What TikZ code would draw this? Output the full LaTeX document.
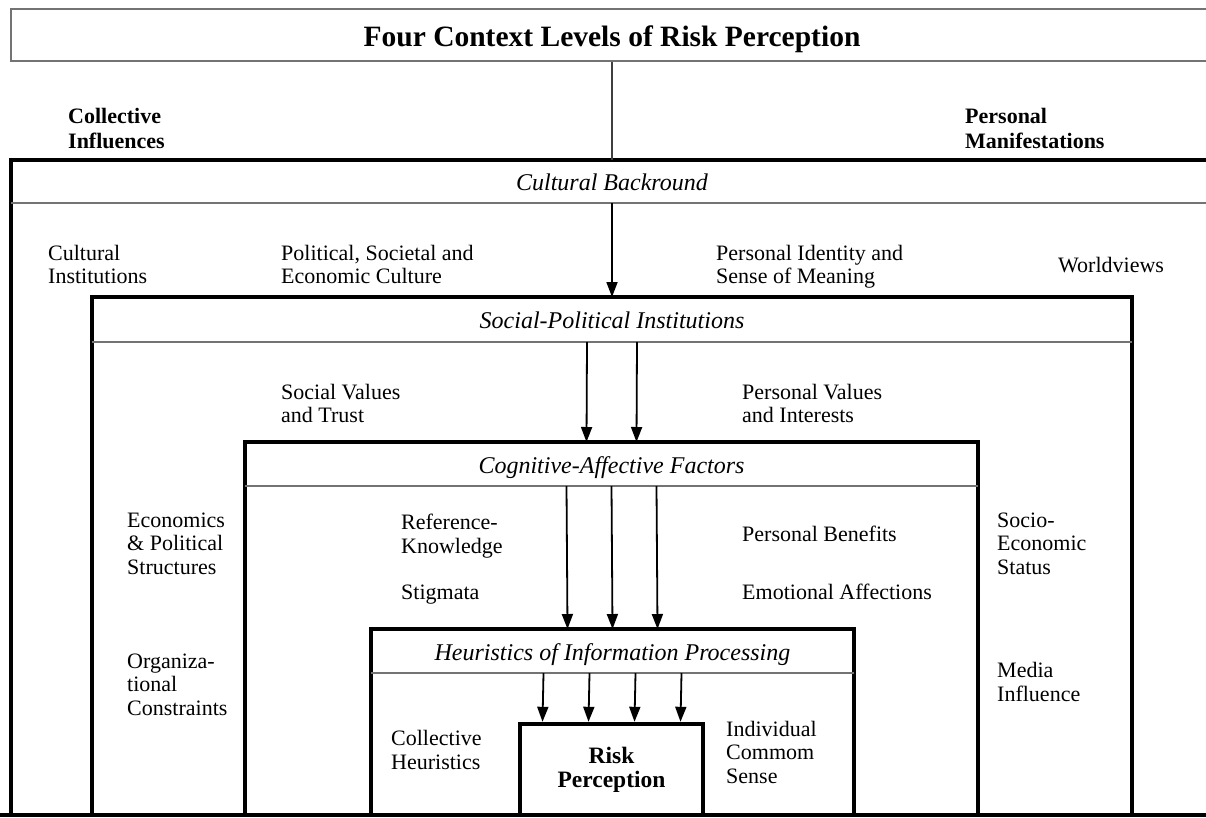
\documentclass[tikz,border=0pt]{standalone}
\usepackage{fontspec}
\setmainfont{Liberation Serif}
\usetikzlibrary{arrows.meta}
\begin{document}
\begin{tikzpicture}[x=1pt,y=-1pt,
  frame/.style={line width=3.2pt,draw=black},
  rule/.style={line width=1.2pt,draw=black!55},
  band/.style={inner sep=0pt,outer sep=0pt,text height=18pt,text depth=0pt,
    font=\fontsize{24}{28}\selectfont\itshape},
  % multi-line labels: the base anchor sits on the last line
  lbl/.style={inner sep=0pt,anchor=base west,align=left,
    font=\fontsize{22}{23.5}\selectfont},
  side/.style={inner sep=0pt,anchor=base west,align=left,
    font=\fontsize{22}{25}\selectfont\bfseries},
  arr/.style={line width=1.8pt,-{Triangle[length=15pt,width=11pt]}},
]
\useasboundingbox (0,0) rectangle (1206,817);
\clip (0,0) rectangle (1206,817);

% title bar
\node[draw=black!55,line width=1.4pt,inner sep=0pt,minimum width=1202pt,
  minimum height=52pt,text height=22pt,text depth=0pt,
  font=\fontsize{29.5}{34}\selectfont\bfseries] (title) at (612,35)
  {Four Context Levels of Risk Perception};

\node[side] (coll) at (68,148) {Collective\\Influences};
\node[side] (pers) at (965,148) {Personal\\Manifestations};

% nested context frames, open at the bottom edge
\draw[frame] (11,817) -- (11,160) -- (1215,160);
\draw[frame] (92,815) rectangle (1132,297);
\draw[frame] (245,815) rectangle (978,442);
\draw[frame] (371,815) rectangle (854,629);
\draw[frame] (0,815) -- (1206,815);

% header bands of the four levels
\node[band,minimum width=1202pt,minimum height=43pt] (cultH) at (612,181.5) {Cultural Backround};
\node[band,minimum width=1040pt,minimum height=45pt] (socH) at (612,319.5) {Social-Political Institutions};
\node[band,minimum width=733pt,minimum height=44pt] (cogH) at (611.5,464) {Cognitive-Affective Factors};
\node[band,minimum width=483pt,minimum height=44pt] (heuH) at (612.5,651) {Heuristics of Information Processing};

\draw[rule] (cultH.south west) -- (cultH.south east);
\draw[rule] (socH.south west) -- (socH.south east);
\draw[rule] (cogH.south west) -- (cogH.south east);
\draw[rule] (heuH.south west) -- (heuH.south east);

% core
\node[draw,line width=4.4pt,inner sep=0pt,minimum width=183pt,minimum height=91pt,
  align=center,font=\fontsize{23.5}{24}\selectfont\bfseries] (risk) at (611.5,769.5)
  {Risk\\Perception};

% level labels
\node[lbl] (ci) at (48,283.5) {Cultural\\Institutions};
\node[lbl] (psec) at (281,283.5) {Political, Societal and\\Economic Culture};
\node[lbl] (pid) at (716,283.5) {Personal Identity and\\Sense of Meaning};
\node[lbl] (wv) at (1058,272) {Worldviews};

\node[lbl] (svt) at (281,422.5) {Social Values\\and Trust};
\node[lbl] (pvi) at (742,422.5) {Personal Values\\and Interests};
\node[lbl] (eps) at (127,574) {Economics\\\& Political\\Structures};
\node[lbl] (ses) at (997,574) {Socio-\\Economic\\Status};
\node[lbl] (oc) at (127,715) {Organiza-\\tional\\Constraints};
\node[lbl] (mi) at (997,701) {Media\\Influence};

\node[lbl] (rk) at (401,553) {Reference-\\Knowledge};
\node[lbl] (stg) at (401,599) {Stigmata};
\node[lbl] (pb) at (742,541) {Personal Benefits};
\node[lbl] (ea) at (742,599) {Emotional Affections};

\node[lbl] (ch) at (391,769) {Collective\\Heuristics};
\node[lbl] (ics) at (726,783) {Individual\\Commom\\Sense};

% connectors
\draw[line width=1.5pt,black!75] (title.south) -- (cultH.north);
\draw[arr] (cultH.south) -- (socH.north);
\foreach \dx in {-25,25}
  \draw[arr] ([xshift=\dx pt]socH.south) -- ([xshift=\dx pt]cogH.north);
\foreach \dx in {-45,0,45}
  \draw[arr] ([xshift=\dx pt]cogH.south) -- ([xshift=\dx pt]heuH.north);
\foreach \dx in {-69,-23,23,69}
  \draw[arr] ([xshift=\dx pt]heuH.south) -- ([xshift=\dx pt]risk.north);
\end{tikzpicture}
\end{document}
